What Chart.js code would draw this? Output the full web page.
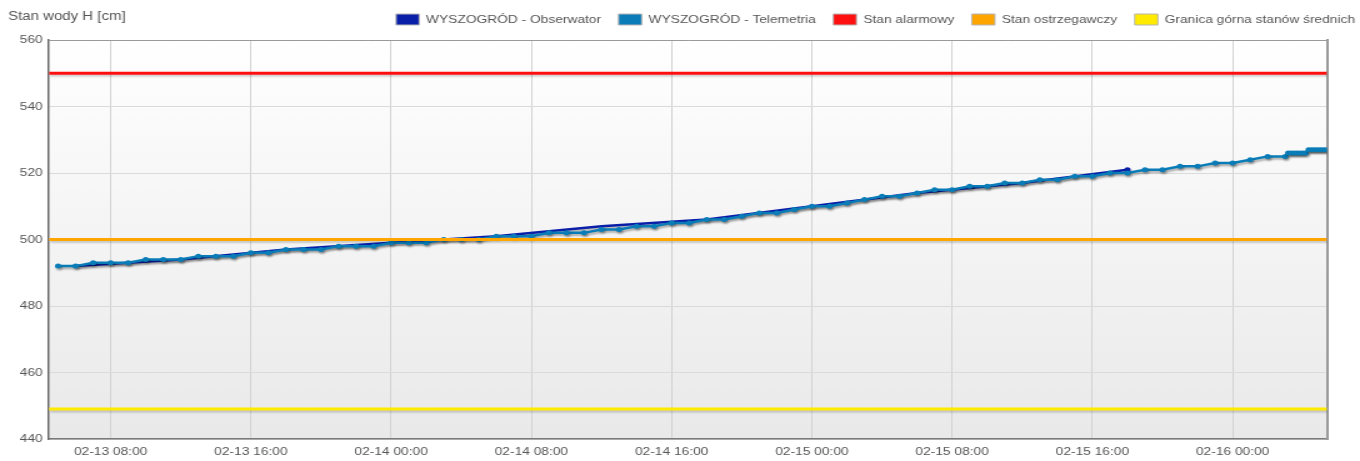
<!DOCTYPE html>
<html><head><meta charset="utf-8">
<script src="https://cdn.jsdelivr.net/npm/chart.js@4.4.1/dist/chart.umd.min.js"></script>
<style>html,body{margin:0;padding:0;background:#fff;overflow:hidden;}</style>
</head><body>
<canvas id="c" width="1088" height="461" style="width:1360px;height:461px;display:block"></canvas>
<script>
const axisTitle = 'Stan wody H [cm]';
const xRange = ['02-13 04:29', '02-16 05:23'];
const xTickLabels = ['02-13 08:00', '02-13 16:00', '02-14 00:00', '02-14 08:00', '02-14 16:00',
  '02-15 00:00', '02-15 08:00', '02-15 16:00', '02-16 00:00'];
const yTicks = [440, 460, 480, 500, 520, 540, 560];

const telemetriaName = 'WYSZOGRÓD - Telemetria';
const telemetriaTimes = [
  '02-13 05:00','02-13 06:00','02-13 07:00','02-13 08:00','02-13 09:00','02-13 10:00','02-13 11:00',
  '02-13 12:00','02-13 13:00','02-13 14:00','02-13 15:00','02-13 16:00','02-13 17:00','02-13 18:00',
  '02-13 19:00','02-13 20:00','02-13 21:00','02-13 22:00','02-13 23:00',
  '02-14 00:00','02-14 01:00','02-14 02:00','02-14 03:00','02-14 04:00','02-14 05:00','02-14 06:00',
  '02-14 07:00','02-14 08:00','02-14 09:00','02-14 10:00','02-14 11:00','02-14 12:00','02-14 13:00',
  '02-14 14:00','02-14 15:00','02-14 16:00','02-14 17:00','02-14 18:00','02-14 19:00','02-14 20:00',
  '02-14 21:00','02-14 22:00','02-14 23:00',
  '02-15 00:00','02-15 01:00','02-15 02:00','02-15 03:00','02-15 04:00','02-15 05:00','02-15 06:00',
  '02-15 07:00','02-15 08:00','02-15 09:00','02-15 10:00','02-15 11:00','02-15 12:00','02-15 13:00',
  '02-15 14:00','02-15 15:00','02-15 16:00','02-15 17:00','02-15 18:00','02-15 19:00','02-15 20:00',
  '02-15 21:00','02-15 22:00','02-15 23:00',
  '02-16 00:00','02-16 01:00','02-16 02:00','02-16 03:00',
  '02-16 03:10','02-16 03:20','02-16 03:30','02-16 03:40','02-16 03:50','02-16 04:00','02-16 04:10',
  '02-16 04:20','02-16 04:30','02-16 04:40','02-16 04:50','02-16 05:00','02-16 05:10','02-16 05:20'
];
const telemetriaValues = [
  492,492,493,493,493,494,494,494,495,495,495,496,496,497,497,497,498,498,498,
  499,499,499,500,500,500,501,501,501,502,502,502,503,503,504,504,505,505,506,506,507,508,508,509,
  510,510,511,512,513,513,514,515,515,516,516,517,517,518,518,519,519,520,520,521,521,522,522,523,
  523,524,525,525,
  526,526,526,526,526,526,526,
  527,527,527,527,527,527,527
];

const obserwatorName = 'WYSZOGRÓD - Obserwator';
const obserwatorTimes = ['02-13 06:00','02-13 12:00','02-13 18:00','02-14 00:00','02-14 06:00','02-14 12:00',
  '02-14 18:00','02-15 00:00','02-15 06:00','02-15 12:00','02-15 18:00'];
const obserwatorValues = [492, 494, 497, 499, 501, 504, 506, 510, 514, 517, 521];

const thresholdNames = ['Stan alarmowy', 'Stan ostrzegawczy', 'Granica górna stanów średnich'];
const thresholdValues = [550, 500, 449];
const thresholdColors = ['#ff1010', '#ffa500', '#ffea00'];

function toHours(s) {
  const [md, hm] = s.split(' ');
  const [m, d] = md.split('-').map(Number);
  const [hh, mm] = hm.split(':').map(Number);
  return (d - 13) * 24 + hh + mm / 60;
}
const xMin = toHours(xRange[0]);
const xMax = toHours(xRange[1]);

Chart.defaults.font.family = '"Liberation Sans", Arial, Helvetica, sans-serif';
Chart.defaults.font.size = 11;

const bgPlugin = {
  id: 'bg',
  beforeDraw(chart) {
    const {ctx, chartArea: a} = chart;
    const g = ctx.createLinearGradient(0, a.top, 0, a.bottom);
    g.addColorStop(0, '#ffffff');
    g.addColorStop(1, '#e9e9e9');
    ctx.save();
    ctx.fillStyle = g;
    ctx.fillRect(a.left, a.top, a.right - a.left, a.bottom - a.top);
    ctx.restore();
  },
  afterDraw(chart) {
    const ctx = chart.ctx;
    ctx.save();
    ctx.font = '12px "Liberation Sans", Arial, sans-serif';
    ctx.fillStyle = '#555';
    ctx.textBaseline = 'middle';
    ctx.textAlign = 'left';
    ctx.fillText(axisTitle, 6.5, 16.5);
    ctx.restore();
  }
};
const shadowPlugin = {
  id: 'shadow',
  beforeDatasetDraw(chart, args) {
    const ctx = chart.ctx;
    ctx.save();
    ctx.shadowColor = args.index >= 2 ? 'rgba(0,0,0,0.18)' : 'rgba(0,0,0,0.3)';
    ctx.shadowOffsetX = 1;
    ctx.shadowOffsetY = 2;
    ctx.shadowBlur = 2;
  },
  afterDatasetDraw(chart) { chart.ctx.restore(); }
};

const datasets = [
  {
    label: obserwatorName,
    data: obserwatorTimes.map((t, i) => ({x: toHours(t), y: obserwatorValues[i]})),
    borderColor: '#0a1fa8', backgroundColor: '#0a1fa8', borderWidth: 2.5,
    pointRadius: (c) => c.dataIndex === obserwatorValues.length - 1 ? 2.5 : 0,
    pointBorderWidth: 0, order: 2, xAxisID: 'x', yAxisID: 'y'
  },
  {
    label: telemetriaName,
    data: telemetriaTimes.map((t, i) => ({x: toHours(t), y: telemetriaValues[i]})),
    borderColor: '#0a7db8', backgroundColor: '#0a7db8', borderWidth: 2.5,
    pointRadius: 2.5, pointBorderWidth: 0, order: 1, xAxisID: 'x', yAxisID: 'y'
  }
];
thresholdNames.forEach((n, i) => {
  datasets.push({
    label: n,
    data: [{x: xMin, y: thresholdValues[i]}, {x: xMax, y: thresholdValues[i]}],
    borderColor: thresholdColors[i], backgroundColor: thresholdColors[i], borderWidth: 3,
    pointRadius: 0, order: 0, xAxisID: 'x', yAxisID: 'y'
  });
});

new Chart(document.getElementById('c'), {
  type: 'line',
  data: {datasets},
  plugins: [bgPlugin, shadowPlugin],
  options: {
    responsive: false,
    animation: false,
    devicePixelRatio: 1,
    layout: {padding: {left: 0, right: -10, top: 0, bottom: 0}},
    plugins: {
      tooltip: {enabled: false},
      title: {display: false},
      legend: {
        position: 'top', align: 'end',
        labels: {
          boxWidth: 18.5, boxHeight: 11, padding: 14, color: '#555',
          font: {size: 11},
          sort: (a, b) => a.datasetIndex - b.datasetIndex,
          generateLabels(chart) {
            return Chart.defaults.plugins.legend.labels.generateLabels(chart).map(it => {
              it.strokeStyle = '#b5b5b5';
              it.lineWidth = 1;
              return it;
            });
          }
        }
      }
    },
    scales: {
      x: {
        type: 'linear', position: 'bottom', min: xMin, max: xMax,
        afterBuildTicks(s) { s.ticks = xTickLabels.map(l => ({value: toHours(l)})); },
        afterFit(s) { s.height = 22; },
        ticks: {
          autoSkip: false, maxRotation: 0, padding: 6, color: '#555',
          callback: (v, i) => xTickLabels[i]
        },
        grid: {color: '#d2d2d2', lineWidth: 1, drawTicks: false},
        border: {display: true, color: '#7a7a7a', width: 1.5}
      },
      y: {
        type: 'linear', position: 'left', min: yTicks[0], max: yTicks[yTicks.length - 1],
        afterBuildTicks(s) { s.ticks = yTicks.map(v => ({value: v})); },
        afterFit(s) { s.width = 39.2; },
        ticks: {padding: 5, color: '#555'},
        grid: {color: '#dadada', lineWidth: 1, drawTicks: false},
        border: {display: true, color: '#6a6a6a', width: 1.5}
      },
      xTop: {
        type: 'linear', position: 'top', display: true, min: 0, max: 1,
        afterFit(s) { s.height = 5; },
        ticks: {display: false},
        grid: {display: false, drawTicks: false},
        border: {display: true, color: '#9a9a9a', width: 1}
      },
      yR: {
        type: 'linear', position: 'right', display: true, min: 0, max: 1,
        afterFit(s) { s.width = 36.4; },
        ticks: {display: false},
        grid: {display: false, drawTicks: false},
        border: {display: true, color: '#9a9a9a', width: 2}
      }
    }
  }
});
</script>
</body></html>
